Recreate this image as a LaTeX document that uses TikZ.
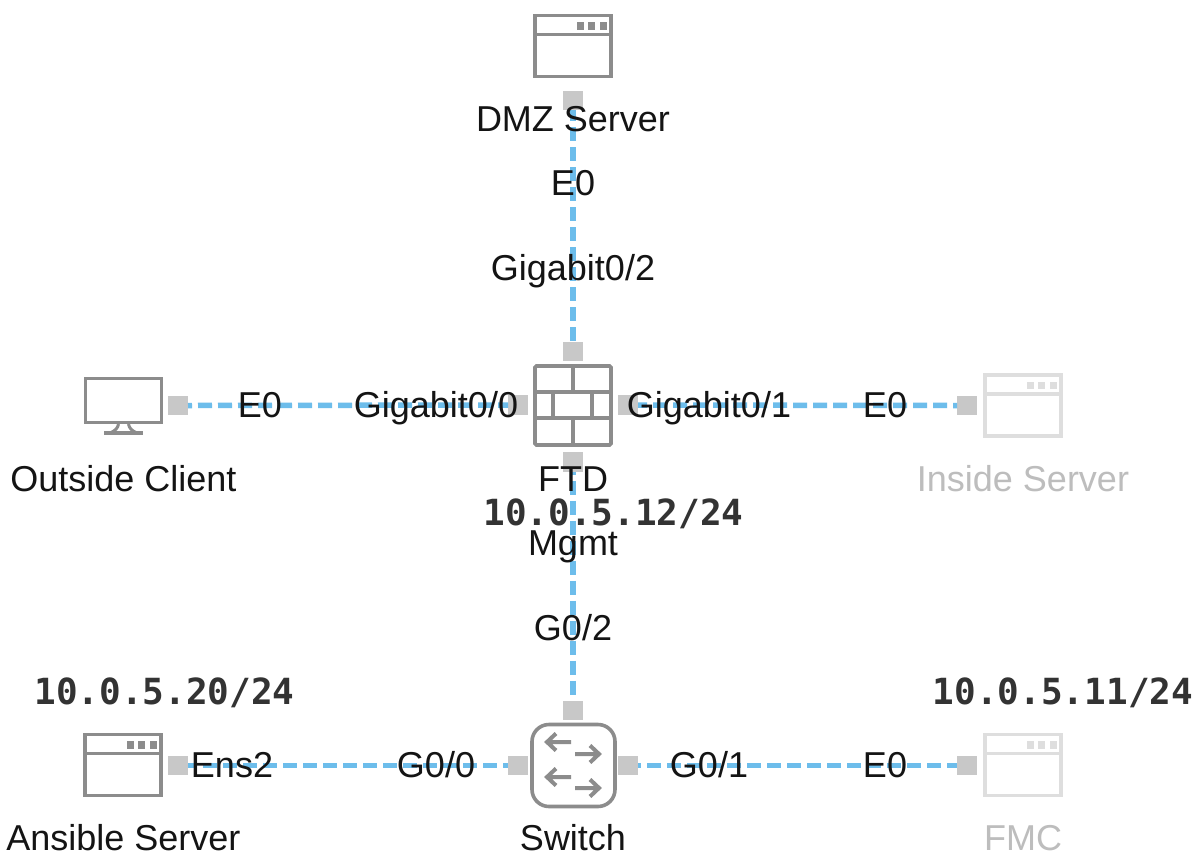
\documentclass[tikz,border=0pt]{standalone}
\usepackage{fontspec}
\setmainfont{Liberation Sans}
\newfontfamily\ipfont{DejaVu Sans Mono}
\definecolor{iconc}{HTML}{8C8C8C}
\definecolor{fadec}{HTML}{DEDEDE}
\definecolor{portc}{HTML}{C8C8C8}
\definecolor{linkc}{HTML}{6DBDEB}
\definecolor{fadetext}{HTML}{BDBDBD}
\definecolor{ipc}{HTML}{333333}
\tikzset{
  port/.style={fill=portc,draw=none,minimum width=20pt,minimum height=19.5pt,inner sep=0pt,outer sep=0pt},
  link/.style={draw=linkc,line width=5.5pt,dash pattern=on 14pt off 6pt,dash phase=#1},
  lbl/.style={font=\fontsize{36}{40}\selectfont,text=black!92,anchor=base,inner sep=0pt},
  fadelbl/.style={lbl,text=fadetext},
  iplbl/.style={font=\fontsize{36}{40}\selectfont\ipfont\bfseries,text=ipc,anchor=base,inner sep=0pt},
  winbox/.style={draw=#1,line width=3.6pt,fill=white,minimum width=76pt,minimum height=61pt,inner sep=0pt,outer sep=0pt},
  fwbox/.style={draw=iconc,line width=3.6pt,fill=white,rounded corners=1.5pt,minimum width=76pt,minimum height=79pt,inner sep=0pt,outer sep=0pt},
  swbox/.style={draw=iconc,line width=3.6pt,fill=white,rounded corners=17pt,minimum width=83pt,minimum height=82pt,inner sep=0pt,outer sep=0pt},
  monbox/.style={draw=iconc,line width=3.6pt,fill=white,minimum width=76pt,minimum height=44pt,inner sep=0pt,outer sep=0pt},
}
\newcommand{\winicon}[4]{%
  \node[winbox=#4] (#1) at (#2,#3) {};
  \draw[#4,line width=3.6pt] ([yshift=-19pt]#1.north west) -- ++(76pt,0);
  \fill[#4] ([xshift=-34.5pt,yshift=-6.5pt]#1.north east) rectangle ++(7pt,-7.5pt);
  \fill[#4] ([xshift=-23pt,yshift=-6.5pt]#1.north east) rectangle ++(7pt,-7.5pt);
  \fill[#4] ([xshift=-11.5pt,yshift=-6.5pt]#1.north east) rectangle ++(7pt,-7.5pt);
}
\begin{document}
\begin{tikzpicture}[x=1pt,y=-1pt]
\useasboundingbox (0,0) rectangle (1200,855);
\fill[white] (0,0) rectangle (1200,855);

% device icons
\winicon{dmz}{573}{46}{iconc}
\winicon{ansible}{123}{765}{iconc}
\winicon{inside}{1023}{405.5}{fadec}
\winicon{fmc}{1023}{765}{fadec}

\node[monbox] (client) at (123.5,400.5) {};
\draw[iconc,line width=3pt,line join=round] (118.5,424) .. controls (118,428) and (115,431) .. (110,433);
\draw[iconc,line width=3pt,line join=round] (128.5,424) .. controls (129,428) and (132,431) .. (137,433);
\draw[iconc,line width=4.4pt] (104,433) -- (143,433);

\node[fwbox] (ftd) at (573,405.5) {};
\draw[iconc,line width=3.4pt]
  (ftd.west |- 0,392) -- (ftd.east |- 0,392)
  (ftd.west |- 0,418) -- (ftd.east |- 0,418)
  (573,366) -- (573,392) (553,392) -- (553,418) (592,392) -- (592,418) (573,418) -- (573,445);

\node[swbox] (sw) at (573.5,765.5) {};
\draw[iconc,line width=4pt,line join=miter]
  (571,742) -- (547,742) (556,733.5) -- (547,742) -- (556,750.5)
  (575,754) -- (599,754) (590,745.5) -- (599,754) -- (590,762.5)
  (571,777) -- (547,777) (556,768.5) -- (547,777) -- (556,785.5)
  (575,788) -- (599,788) (590,779.5) -- (599,788) -- (590,796.5);

% ports
\node[port] (pdmz) at (573,100.5) {};
\node[port] (pftdt) at (573,351.5) {};
\node[port] (pftdl) at (518,405) {};
\node[port] (pftdr) at (628,405) {};
\node[port] (pftdb) at (573,462) {};
\node[port] (pclient) at (178,405.5) {};
\node[port] (pinside) at (967,405.5) {};
\node[port] (pswt) at (573,710.5) {};
\node[port] (pswl) at (518,765.5) {};
\node[port] (pswr) at (628,765.5) {};
\node[port] (pans) at (178,765.5) {};
\node[port] (pfmc) at (967,765.5) {};

% connectors
\draw[link=3pt] (pdmz.south) -- (pftdt.north);
\draw[link=10pt] (pclient.east) -- (pftdl.west);
\draw[link=5pt] (pftdr.east) -- (pinside.west);
\draw[link=11pt] (pftdb.south) -- (pswt.north);
\draw[link=5pt] (pans.east) -- (pswl.west);
\draw[link=11pt] (pswr.east) -- (pfmc.west);

% labels
\node[lbl] (tdmz) at (573,131) {DMZ Server};
\node[lbl] (te0a) at (573,195) {E0};
\node[lbl] (tg02) at (573,280) {Gigabit0/2};
\node[lbl] (te0b) at (260,417) {E0};
\node[lbl] (tg00) at (436,417) {Gigabit0/0};
\node[lbl] (tg01) at (709,417) {Gigabit0/1};
\node[lbl] (te0c) at (885,417) {E0};
\node[lbl] (tclient) at (123.5,491) {Outside Client};
\node[lbl] (tftd) at (573,491) {FTD};
\node[fadelbl] (tinside) at (1023,491) {Inside Server};
\node[iplbl] (tip12) at (613.5,525) {10.0.5.12/24};
\node[lbl] (tmgmt) at (573,555) {Mgmt};
\node[lbl] (tg02b) at (573,640) {G0/2};
\node[iplbl] (tip20) at (164.5,704) {10.0.5.20/24};
\node[iplbl] (tip11) at (1063,704) {10.0.5.11/24};
\node[lbl] (tens) at (232,777) {Ens2};
\node[lbl] (tg00b) at (436,777) {G0/0};
\node[lbl] (tg01b) at (709,777) {G0/1};
\node[lbl] (te0d) at (885,777) {E0};
\node[lbl] (tans) at (123.5,850) {Ansible Server};
\node[lbl] (tsw) at (573,850) {Switch};
\node[fadelbl] (tfmc) at (1023,850) {FMC};
\end{tikzpicture}
\end{document}
